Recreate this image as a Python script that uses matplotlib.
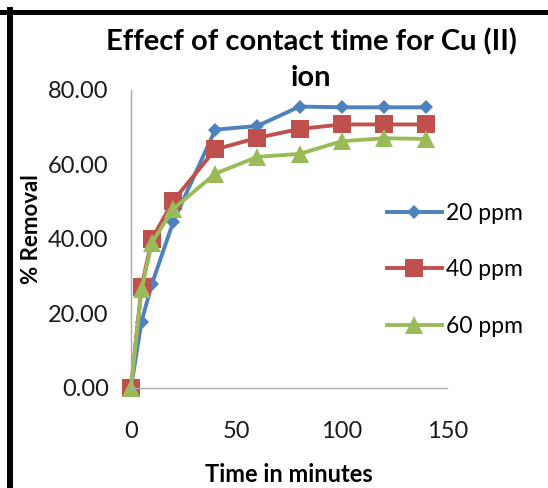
import matplotlib
matplotlib.use("Agg")
import matplotlib.pyplot as plt
from matplotlib.lines import Line2D

time_min = [0, 5, 10, 20, 40, 60, 80, 100, 120, 140]
ppm20 = [0.0, 17.8, 28.0, 44.5, 69.3, 70.3, 75.5, 75.3, 75.3, 75.3]
ppm40 = [0.0, 27.1, 40.0, 50.2, 64.0, 67.1, 69.5, 70.7, 70.7, 70.7]
ppm60 = [0.0, 26.5, 39.0, 48.0, 57.5, 62.0, 62.8, 66.2, 67.0, 66.8]
series_labels = ["20 ppm", "40 ppm", "60 ppm"]
x_ticks = [0, 50, 100, 150]
y_ticks = [0, 20, 40, 60, 80]

plt.rcParams['font.family'] = ['Lato', 'DejaVu Sans']

fig = plt.figure(figsize=(5.48, 4.88), dpi=100)
ax = fig.add_axes([0.239, 0.205, 0.577, 0.611])

styles = [
    dict(color="#4F81BD", marker="D", markersize=7),
    dict(color="#C0504D", marker="s", markersize=13),
    dict(color="#9BBB59", marker="^", markersize=13),
]
for ys, lab, st in zip([ppm20, ppm40, ppm60], series_labels, styles):
    ax.plot(time_min, ys, label=lab, linewidth=2.8, clip_on=False,
            markeredgewidth=0, **st)

ax.set_xlim(0, 150)
ax.set_ylim(0, 80)
ax.set_xticks(x_ticks)
ax.set_yticks(y_ticks)
ax.set_yticklabels([f"{v:.2f}" for v in y_ticks])
ax.tick_params(length=0, labelsize=17, colors="#1a1a1a")
ax.tick_params(axis='y', pad=16)
ax.tick_params(axis='x', pad=24)
for s in ["top", "right"]:
    ax.spines[s].set_visible(False)
for s in ["left", "bottom"]:
    ax.spines[s].set_color("#AAAAAA")
    ax.spines[s].set_linewidth(1.0)

ax.set_xlabel("Time in minutes", fontsize=17, fontweight="bold", va="center")
ax.xaxis.set_label_coords(0.527, 0.027, transform=fig.transFigure)
ax.set_ylabel("% Removal", fontsize=16, fontweight="bold", va="center")
ax.yaxis.set_label_coords(0.057, 0.531, transform=fig.transFigure)

fig.text(0.5675, 0.914, "Effecf of contact time for Cu (II)", ha="center",
         va="center", fontsize=21, fontweight="bold")
fig.text(0.5675, 0.840, "ion", ha="center", va="center", fontsize=21,
         fontweight="bold")

leg = ax.legend(loc="center left", bbox_to_anchor=(0.706, 0.447),
                bbox_transform=fig.transFigure, frameon=False,
                fontsize=16.5, handlelength=2.4, labelspacing=1.55,
                handletextpad=0.2, borderaxespad=0, borderpad=0)

fig.add_artist(Line2D([0.0, 1.0], [0.976, 0.976], color="black", linewidth=3.6,
                      transform=fig.transFigure))
fig.add_artist(Line2D([0.018, 0.018], [0.0, 0.98], color="black", linewidth=4.3,
                      transform=fig.transFigure))

fig.savefig("out.png", dpi=100)
